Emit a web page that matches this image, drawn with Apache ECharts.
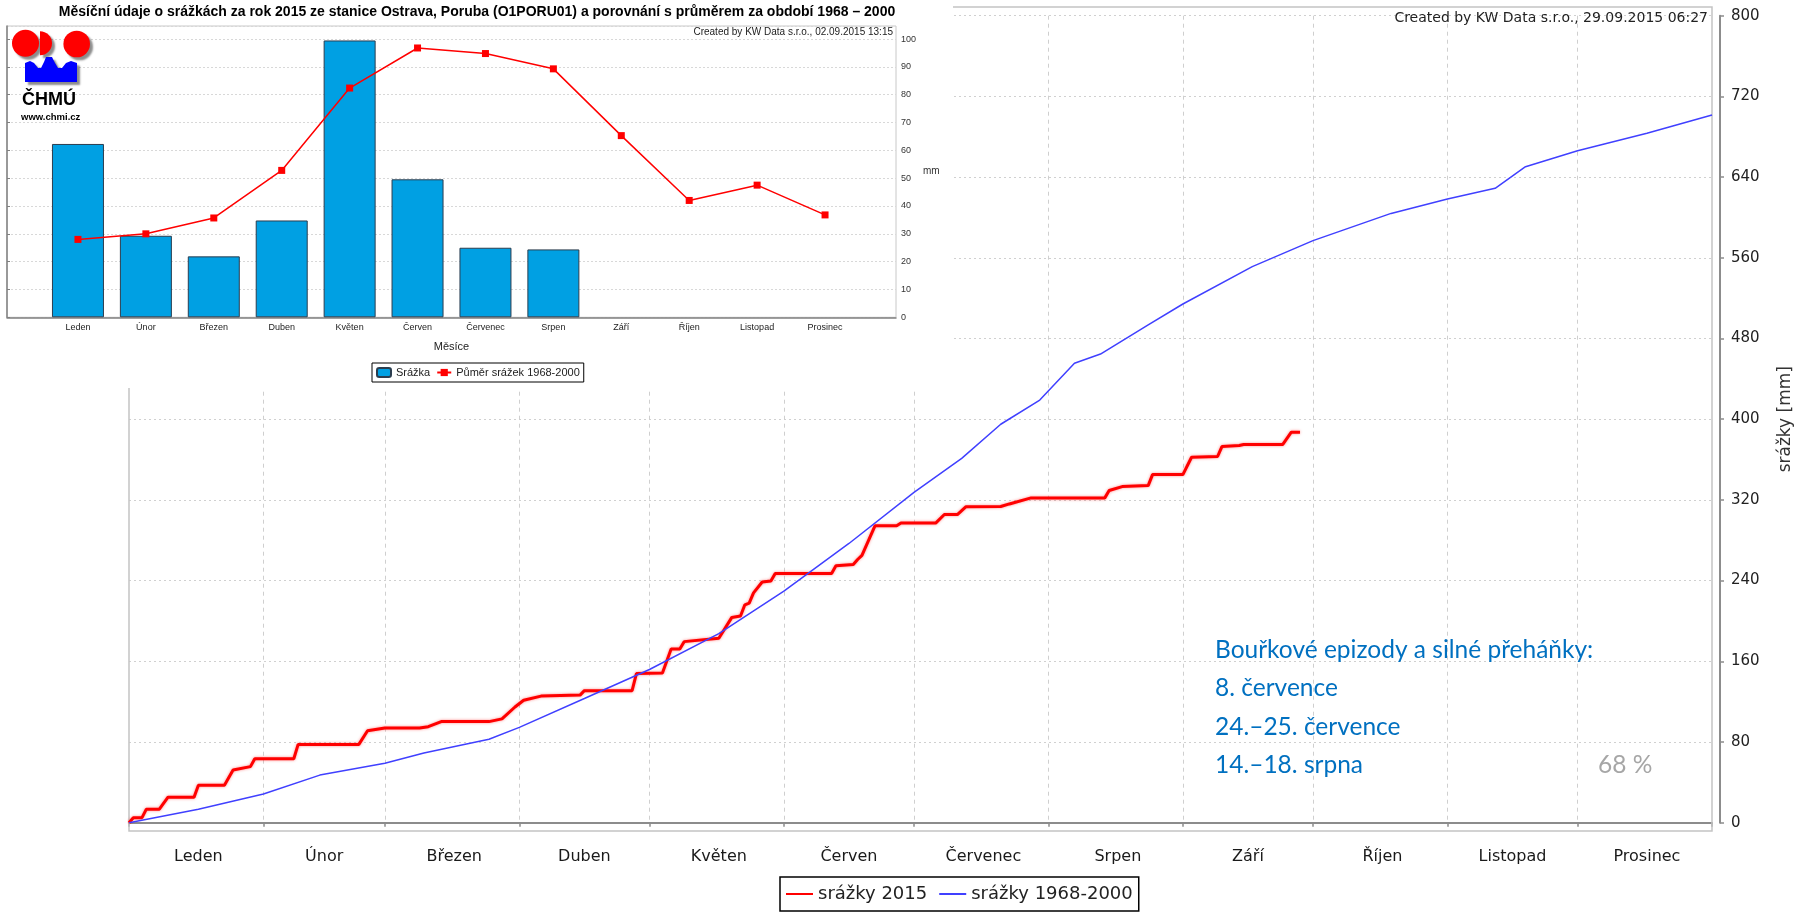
<!DOCTYPE html>
<html>
<head>
<meta charset="utf-8">
<title>Srážky Ostrava-Poruba 2015</title>
<script src="https://cdn.jsdelivr.net/npm/echarts@6.0.0/dist/echarts.min.js"></script>
<style>
  html, body { margin: 0; padding: 0; background: #fff; }
  #main { width: 1802px; height: 914px; }
</style>
</head>
<body>
<div id="main"></div>
<script>
// mesice a pocty dni
var months = ['Leden', 'Únor', 'Březen', 'Duben', 'Květen', 'Červen', 'Červenec', 'Srpen', 'Září', 'Říjen', 'Listopad', 'Prosinec'];
var monthDays = [31, 28, 31, 30, 31, 30, 31, 31, 30, 31, 30, 31];

// mesicni srazky 2015 (sloupce) a prumer 1968-2000 (cara)
var rain2015 = [62.3, 29.3, 21.9, 34.8, 99.5, 49.6, 25.0, 24.4];
var rainAvg = [28.0, 30.0, 35.7, 52.8, 82.4, 96.8, 94.8, 89.3, 65.3, 42.0, 47.5, 36.8];

// kumulativni srazky [den v roce, mm]
var cum2015 = [
  [0, 0], [1, 5], [3, 5], [4, 13.4], [7, 13.4], [9, 25.3], [15, 25.3], [16, 37.1], [22, 37.1],
  [24, 52.2], [28, 55.6], [29, 63.4], [38, 63.4], [39, 77.6], [53, 77.6], [55, 91.1], [59, 93.8],
  [67, 93.8], [69, 95.2], [72, 100.2], [83, 100.2], [86, 102.9], [89, 114.7], [91, 121.4], [95, 125.5],
  [104, 126.5], [105, 130.9], [116, 130.9], [117, 147.8], [123, 148.5], [125, 172.1], [127, 172.1],
  [128, 179.5], [136, 182.9], [139, 203.5], [141, 204.9], [142, 216.0], [143, 217.7], [144, 227.8],
  [146, 238.6], [148, 239.6], [149, 247.1], [162, 247.1], [163, 254.8], [167, 255.9], [168, 260.9],
  [169, 265.0], [172, 294.3], [177, 294.3], [178, 297.0], [186, 297.0], [188, 305.5], [191, 305.5],
  [193, 313.3], [201, 313.4], [203, 316.0], [208, 322.0], [225, 322.0], [226, 329.3], [229, 333.2],
  [235, 334.2], [236, 345.1], [243, 345.1], [245, 362.3], [251, 363.0], [252, 372.9], [256, 373.9],
  [257, 374.9], [266, 374.9], [268, 387.1], [270, 387.1]
];
var cumAvg = [
  [0, 0], [16, 13.3], [31, 28.5], [44, 47.2], [59, 59.0], [68, 69.1], [83, 82.7], [90, 94.5],
  [105, 123.1], [120, 151.9], [136, 187.4], [151, 229.5], [166, 276.8], [181, 327.4], [192, 361.2],
  [201, 395.0], [210, 419.0], [218, 455.4], [224, 464.6], [235, 493.4], [243, 514.2], [259, 551.2],
  [273, 577.0], [291, 604.0], [304, 618.3], [315, 628.9], [322, 650.3], [334, 666.2], [350, 683.4],
  [365, 701.6]
];

var notes = ['Bouřkové epizody a silné přeháňky:', '8. července', '24.–25. července', '14.–18. srpna'];

// dny roku jako kategorie, zacatky a stredy mesicu
var monthStart = [0];
monthDays.forEach(function (d, i) { monthStart.push(monthStart[i] + d); });
var days = [];
for (var i = 0; i <= 365; i++) days.push(String(i));
var monthMid = {};
months.forEach(function (m, i) { monthMid[Math.round(monthStart[i] + monthDays[i] / 2)] = m; });

var dv = 'DejaVu Sans';
var ar = 'Liberation Sans';
var noteFont = '24.5px Lato';
var logoShadow = { shadowColor: 'rgba(0,0,0,0.45)', shadowBlur: 2, shadowOffsetX: 3, shadowOffsetY: 3 };
var myChart = echarts.init(document.getElementById('main'));

var option = {
  animation: false,
  backgroundColor: '#fff',
  title: [{
    text: 'Měsíční údaje o srážkách za rok 2015 ze stanice Ostrava, Poruba (O1PORU01) a porovnání s průměrem za období 1968 – 2000',
    left: 477, top: 5, padding: 0, textAlign: 'center', z: 25,
    textStyle: { fontFamily: ar, fontSize: 14, fontWeight: 'bold', color: '#000' }
  }],
  legend: [{
    data: ['srážky 2015', 'srážky 1968-2000'],
    left: 780, top: 877, padding: [8, 6, 8, 5], itemGap: 11, itemWidth: 27, itemHeight: 2,
    borderColor: '#000', borderWidth: 1.5, backgroundColor: '#fff', selectedMode: false,
    textStyle: { fontFamily: dv, fontSize: 18, color: '#222' }
  }, {
    data: ['Srážka', 'Půměr srážek 1968-2000'],
    left: 372, top: 363, padding: [4, 4, 4, 4], itemGap: 6, itemWidth: 14, itemHeight: 9, z: 25,
    borderColor: '#000', borderWidth: 1, backgroundColor: '#fff', selectedMode: false,
    textStyle: { fontFamily: ar, fontSize: 11, color: '#222' }
  }],
  grid: [
    { left: 129, right: 90, top: 15.7, bottom: 91.3, outerBoundsMode: 'none' },
    { left: 7, right: 906, top: 26, bottom: 596.7, show: true, borderColor: '#c8c8c8', borderWidth: 1, z: 20, outerBoundsMode: 'none' },
    { left: 44, right: 943, top: 26, bottom: 596.7, z: 20, outerBoundsMode: 'none' }
  ],
  xAxis: [{
    gridIndex: 0, type: 'category', data: days, boundaryGap: false, offset: 17,
    axisLine: { lineStyle: { color: '#8c8c8c', width: 2 } },
    axisTick: {
      length: 4, lineStyle: { color: '#8c8c8c', width: 1.5 },
      interval: function (idx) { return monthStart.indexOf(idx) >= 0; }
    },
    axisLabel: {
      margin: 9, fontFamily: dv, fontSize: 16, color: '#1a1a1a',
      interval: function (idx) { return monthMid[idx] !== undefined; },
      formatter: function (v, idx) { return monthMid[idx] || ''; }
    },
    splitLine: {
      show: true, lineStyle: { color: '#cfcfcf', type: [4, 4], width: 1 },
      interval: function (idx) { return idx > 0 && idx < 365 && monthStart.indexOf(idx) >= 0; }
    }
  }, {
    gridIndex: 1, type: 'value', min: 0, max: 1, z: 20,
    axisLine: { show: true, lineStyle: { color: '#808080', width: 1.5 } },
    axisTick: { show: false }, axisLabel: { show: false }, splitLine: { show: false }
  }, {
    gridIndex: 2, type: 'category', data: months, z: 20,
    axisLine: { show: false }, axisTick: { show: false },
    axisLabel: { margin: 6, fontFamily: ar, fontSize: 9, color: '#222' },
    name: 'Měsíce', nameLocation: 'middle', nameGap: 24,
    nameTextStyle: { fontFamily: ar, fontSize: 11, color: '#222' }
  }],
  yAxis: [{
    gridIndex: 0, type: 'value', position: 'right', min: 0, max: 800, interval: 80, offset: 8,
    axisLine: { show: true, lineStyle: { color: '#8c8c8c', width: 2 } },
    axisTick: { show: true, length: 4, lineStyle: { color: '#8c8c8c', width: 1.5 } },
    axisLabel: { margin: 11, fontFamily: dv, fontSize: 15, color: '#222' },
    splitLine: { lineStyle: { color: '#d0d0d0', type: [2, 3], width: 1 } },
    name: 'srážky [mm]', nameLocation: 'middle', nameRotate: 90, nameGap: 57,
    nameTextStyle: { fontFamily: dv, fontSize: 17, color: '#333' }
  }, {
    gridIndex: 1, type: 'value', position: 'right', min: 0, max: 104.7, interval: 10, z: 20,
    axisLine: { show: true, lineStyle: { color: '#808080', width: 1.5 } },
    axisTick: { show: true, length: 3, lineStyle: { color: '#808080' } },
    axisLabel: { margin: 5, fontFamily: ar, fontSize: 9, color: '#333', showMaxLabel: false },
    splitLine: { lineStyle: { color: '#d8d8d8', type: [2, 2], width: 1 } },
    name: 'mm', nameLocation: 'middle', nameRotate: 0, nameGap: 27,
    nameTextStyle: { fontFamily: ar, fontSize: 10, color: '#333' }
  }, {
    gridIndex: 2, type: 'value', min: 0, max: 104.7, show: false
  }],
  series: [{
    name: 'srážky 2015', type: 'line', xAxisIndex: 0, yAxisIndex: 0, data: cum2015,
    symbol: 'none', color: '#ff0000',
    lineStyle: { color: '#ff0000', width: 3, shadowColor: 'rgba(255,0,0,0.45)', shadowBlur: 3 }
  }, {
    name: 'srážky 1968-2000', type: 'line', xAxisIndex: 0, yAxisIndex: 0, data: cumAvg,
    symbol: 'none', color: '#4040ff',
    lineStyle: { color: '#4040ff', width: 1.5 }
  }, {
    name: 'Srážka', type: 'bar', xAxisIndex: 2, yAxisIndex: 2, data: rain2015, z: 21,
    barWidth: 52, color: '#00a0e3',
    itemStyle: { color: '#00a0e3', borderColor: '#2b3d4f', borderWidth: 1 }
  }, {
    name: 'Půměr srážek 1968-2000', type: 'line', xAxisIndex: 2, yAxisIndex: 2, data: rainAvg, z: 22,
    symbol: 'rect', symbolSize: 7, color: '#ff0000',
    itemStyle: { color: '#ff0000' }, lineStyle: { color: '#ff0000', width: 1.5 }
  }],
  graphic: [
    // ramecek velkeho grafu
    { type: 'rect', z: 1, silent: true, shape: { x: 129, y: 7, width: 1583, height: 824 },
      style: { fill: 'none', stroke: '#c4c4c4', lineWidth: 1.5 } },
    { type: 'text', z: 5, x: 1708, y: 18,
      style: { text: 'Created by KW Data s.r.o., 29.09.2015 06:27', align: 'right', verticalAlign: 'middle',
        font: '14px "DejaVu Sans"', fill: '#222' } },
    { type: 'text', z: 5, x: 1215, y: 650, style: { text: notes[0], verticalAlign: 'middle', font: noteFont, fill: '#0070c0' } },
    { type: 'text', z: 5, x: 1215, y: 688, style: { text: notes[1], verticalAlign: 'middle', font: noteFont, fill: '#0070c0' } },
    { type: 'text', z: 5, x: 1215, y: 727, style: { text: notes[2], verticalAlign: 'middle', font: noteFont, fill: '#0070c0' } },
    { type: 'text', z: 5, x: 1215, y: 765, style: { text: notes[3], verticalAlign: 'middle', font: noteFont, fill: '#0070c0' } },
    { type: 'text', z: 5, x: 1598, y: 765, style: { text: '68 %', verticalAlign: 'middle', font: noteFont, fill: '#a6a6a6' } },
    // bily podklad vlozeneho grafu
    { type: 'rect', z: 10, silent: true, shape: { x: 0, y: 0, width: 953, height: 388 }, style: { fill: '#fff' } },
    { type: 'text', z: 25, x: 893, y: 32,
      style: { text: 'Created by KW Data s.r.o., 02.09.2015 13:15', align: 'right', verticalAlign: 'middle',
        font: '10px "Liberation Sans"', fill: '#222' } },
    // logo CHMU
    { type: 'circle', z: 30, shape: { cx: 25.5, cy: 43.3, r: 13.5 },
      style: Object.assign({ fill: '#ff0000' }, logoShadow) },
    { type: 'sector', z: 30, shape: { cx: 40, cy: 43.3, r: 12, startAngle: -Math.PI / 2, endAngle: Math.PI / 2 },
      style: Object.assign({ fill: '#ff0000' }, logoShadow) },
    { type: 'circle', z: 30, shape: { cx: 76.7, cy: 44, r: 13.3 },
      style: Object.assign({ fill: '#ff0000' }, logoShadow) },
    { type: 'polygon', z: 30,
      shape: { points: [[25, 82], [25, 63], [30, 61], [34, 63], [38, 68], [41, 68], [44, 62], [46, 57], [52, 57], [55, 63], [58, 68], [62, 68], [66, 63], [71, 61], [77, 63], [77, 82]] },
      style: Object.assign({ fill: '#0000ff' }, logoShadow) },
    { type: 'text', z: 30, x: 22, y: 100,
      style: { text: 'ČHMÚ', verticalAlign: 'middle', font: 'bold 18px "Liberation Sans"', fill: '#000' } },
    { type: 'text', z: 30, x: 21, y: 117,
      style: { text: 'www.chmi.cz', verticalAlign: 'middle', font: 'bold 9.5px "Liberation Sans"', fill: '#000' } }
  ]
};

myChart.setOption(option);
</script>
</body>
</html>
